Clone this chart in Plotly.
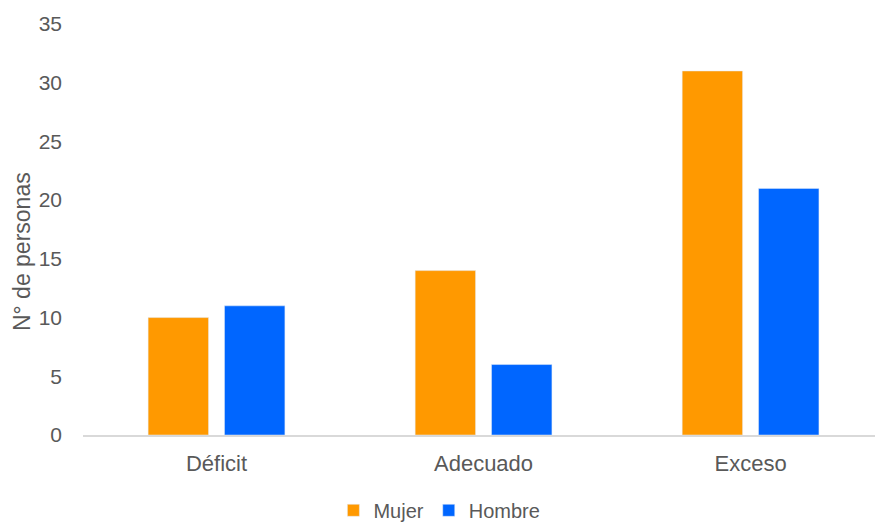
import plotly.graph_objects as go

categories = ["Déficit", "Adecuado", "Exceso"]
mujer = [10, 14, 31]
hombre = [11, 6, 21]
y_ticks = [0, 5, 10, 15, 20, 25, 30, 35]

font_family = "Liberation Sans, Arial, sans-serif"
gray = "#595959"

fig = go.Figure()
fig.add_trace(go.Bar(name="Mujer", x=categories, y=mujer, marker_color="#FF9900"))
fig.add_trace(go.Bar(name="Hombre", x=categories, y=hombre, marker_color="#0066FF"))

fig.update_layout(
    width=875,
    height=525,
    margin=dict(l=83, r=0, t=24, b=90, autoexpand=False),
    paper_bgcolor="white",
    plot_bgcolor="white",
    barmode="group",
    bargap=0.428,
    bargroupgap=0.209,
    font=dict(family=font_family, color=gray, size=22),
    legend=dict(
        orientation="h",
        x=0.45,
        xanchor="center",
        yref="container",
        y=0.028,
        yanchor="middle",
        font=dict(size=20, color=gray),
        itemwidth=30,
    ),
    showlegend=True,
)

fig.update_xaxes(
    range=[-0.5, 2.466],
    automargin=False,
    showline=True,
    linecolor="#D9D9D9",
    linewidth=1.5,
    ticks="",
    showgrid=False,
    ticklabelstandoff=8,
    tickfont=dict(size=22, color=gray),
)
fig.update_yaxes(
    range=[0, 35],
    automargin=False,
    tickvals=y_ticks,
    showgrid=False,
    zeroline=False,
    showline=False,
    ticks="",
    ticklabelstandoff=20,
    tickfont=dict(size=21, color=gray),
)

fig.add_annotation(
    text="N° de personas",
    xref="paper",
    yref="paper",
    x=0,
    xshift=-61,
    xanchor="center",
    y=0.445,
    yanchor="middle",
    textangle=-90,
    showarrow=False,
    font=dict(size=23, color=gray),
)

fig.write_html("out.html")
